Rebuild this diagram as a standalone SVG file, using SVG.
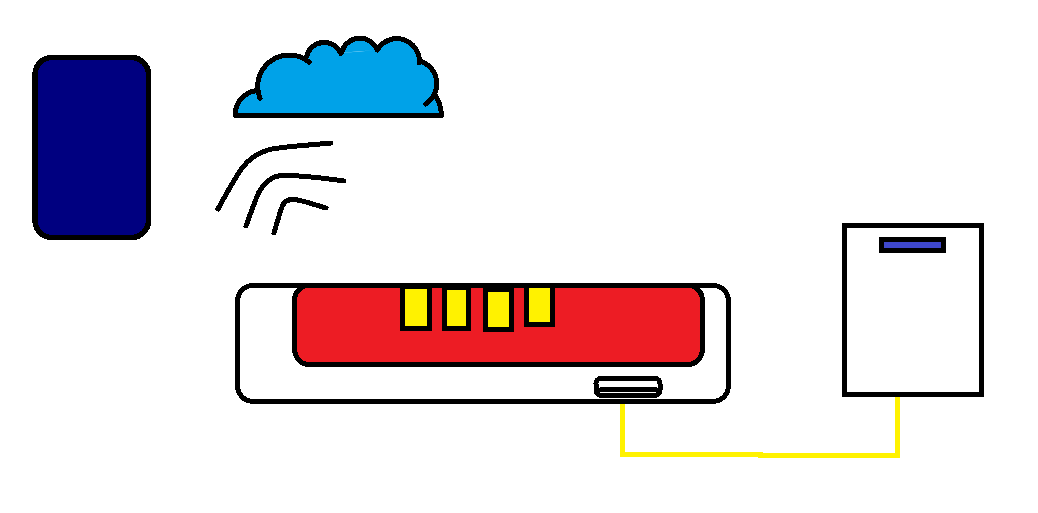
<svg xmlns="http://www.w3.org/2000/svg" width="1038" height="513" viewBox="0 0 1038 513">
  <style>
    .ink { stroke: #000; stroke-width: 5; stroke-linejoin: miter; shape-rendering: crispEdges; }
    .soft { fill: none; stroke: #000; stroke-width: 5; stroke-linecap: round; stroke-linejoin: round; shape-rendering: crispEdges; }
    .port { fill: #fff200; }
    .cable { fill: none; stroke: #fff200; stroke-width: 5; stroke-linecap: square; stroke-linejoin: miter; shape-rendering: crispEdges; }
  </style>
  <rect width="1038" height="513" fill="#fff"/>

  <g id="connectors">
    <path class="cable" d="M622.500,399 V454 H760 V455.500 H897.500 V399"/>
  </g>

  <g id="phone">
    <rect class="ink" x="35" y="57.500" width="113.500" height="180" rx="17" fill="#000080" style="stroke-width:5.500"/>
  </g>

  <g id="cloud">
    <!-- lobes filled first, then the same arcs stroked on top -->
    <path fill="#00a2e8" d="M235.300,115.300 A24,24 0 0 1 256,90.700 Z
      M260,98.300 A31.500,31.500 0 0 1 309,62 Z
      M306.700,56 A18,18 0 0 1 340.700,53.300 Z
      M341.700,52.700 A18.700,18.700 0 0 1 377.300,50 Z
      M377.300,50 A22.500,22.500 0 0 1 419.300,62.700 Z
      M419.300,60.700 A24,24 0 0 1 425.700,104 Z
      M235.300,115.300 L256,90.700 L260,98.300 L306.700,56 L341,53 L377.300,50 L419.300,61 L435,95 L441.300,115.300 Z"/>
    <path fill="#00a2e8" d="M425,95 L435,95 Q441.300,104 441.300,115.300 L425,115.300 Z"/>
    <path class="soft" d="M235.300,115.300 A24,24 0 0 1 256,90.700
      M260,98.300 A31.500,31.500 0 0 1 309,62
      M306.700,56 A18,18 0 0 1 340.700,53.300
      M341.700,52.700 A18.700,18.700 0 0 1 377.300,50
      M377.300,50 A22.500,22.500 0 0 1 419.300,62.700
      M419.300,60.700 A24,24 0 0 1 425.700,104
      M435,95 Q441.300,104 441.300,115.300
      M235.300,115.300 H441.300"/>
  </g>

  <g id="signal">
    <path class="soft" d="M218,209 C224,198 232,183 240,171 C248,159 258,152 272,149 C290,146 312,145 331,143"/>
    <path class="soft" d="M246,226 C250,215 254,203 259,192 C265,182 272,176 282,175.500 C302,175 322,178 344,181"/>
    <path class="soft" d="M274,233 C276,226 279,215 282,207 C284,201 288,199 295,199.500 C305,201 315,205 326,208"/>
  </g>

  <g id="router">
    <rect class="ink" x="237.700" y="285.500" width="490.600" height="115.800" rx="15" fill="#fff"/>
    <rect class="ink" x="294.700" y="285" width="407.600" height="79.700" rx="15" fill="#ed1c24"/>
    <rect class="ink port" x="402.500" y="286.500" width="27" height="42"/>
    <rect class="ink port" x="444.500" y="287.500" width="24" height="41"/>
    <rect class="ink port" x="485.500" y="289.500" width="26" height="40"/>
    <rect class="ink port" x="526.500" y="285.500" width="26" height="39"/>
    <rect class="ink" x="596" y="378.500" width="64" height="16.800" rx="5" fill="#fff"/>
    <line class="soft" x1="601" y1="389.700" x2="656" y2="389.700"/>
  </g>

  <g id="terminal">
    <rect class="ink" x="844.500" y="225.500" width="137" height="169" fill="#fff"/>
    <rect class="ink" x="881.500" y="239.500" width="62" height="11" fill="#3f48cc"/>
  </g>
</svg>
